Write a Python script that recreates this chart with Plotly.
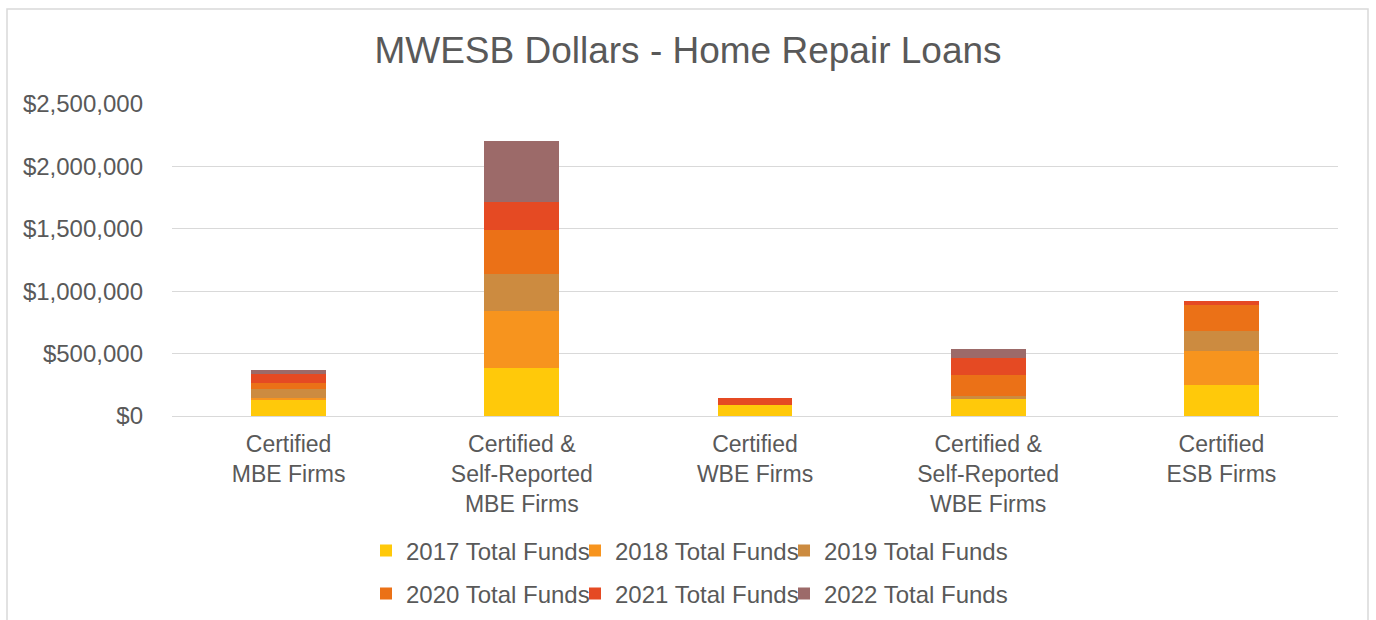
import plotly.graph_objects as go

categories = ["Certified<br>MBE Firms", "Certified &<br>Self-Reported<br>MBE Firms",
              "Certified<br>WBE Firms", "Certified &<br>Self-Reported<br>WBE Firms",
              "Certified<br>ESB Firms"]

funds_2017 = [133000, 381000, 88000, 133000, 248000]
funds_2018 = [13000, 461000, 0, 0, 274000]
funds_2019 = [67000, 298000, 0, 27000, 162000]
funds_2020 = [53000, 351000, 0, 165000, 208000]
funds_2021 = [72000, 221000, 58000, 138000, 27000]
funds_2022 = [32000, 490000, 0, 72000, 0]

series_names = ["2017 Total Funds", "2018 Total Funds", "2019 Total Funds",
                "2020 Total Funds", "2021 Total Funds", "2022 Total Funds"]
series_values = [funds_2017, funds_2018, funds_2019, funds_2020, funds_2021, funds_2022]
colors = ["#FFC90A", "#F7941E", "#CC8B40", "#EB7117", "#E54A23", "#9C6A69"]

tick_vals = [0, 500000, 1000000, 1500000, 2000000, 2500000]
tick_text = ["$0", "$500,000", "$1,000,000", "$1,500,000", "$2,000,000", "$2,500,000"]

W, H = 1376, 620
ML, MR, MT, MB = 172, 38, 104, 204
PW, PH = W - ML - MR, H - MT - MB

def px_x(p):
    return (p - ML) / PW

def px_y(p):
    return (H - MB - p) / PH

FONT = "Liberation Sans, Arial, sans-serif"
GRAY = "#595959"

# legend slot positions (pixel, left of entry box / row centre)
legend_cols = [366, 575, 784]
legend_rows = [551, 594]

fig = go.Figure()
legend_layouts = {}
for i, (name, vals, col) in enumerate(zip(series_names, series_values, colors)):
    key = f"legend{i + 2}"
    fig.add_trace(go.Bar(
        x=categories, y=vals, name=name,
        marker=dict(color=col, line=dict(width=0)),
        legend=key,
    ))
    legend_layouts[key] = dict(
        x=px_x(legend_cols[i % 3]), y=px_y(legend_rows[i // 3]),
        xanchor="left", yanchor="middle", orientation="h",
        font=dict(family=FONT, size=24, color=GRAY),
        bgcolor="rgba(0,0,0,0)", itemwidth=30,
    )

fig.update_layout(
    width=W, height=H,
    margin=dict(l=ML, r=MR, t=MT, b=MB, pad=0, autoexpand=False),
    paper_bgcolor="white", plot_bgcolor="white",
    barmode="stack", bargap=0.68,
    title=dict(text="MWESB Dollars - Home Repair Loans",
               x=688 / W, xref="container",
               y=1 - 50 / H, yref="container", xanchor="center", yanchor="middle",
               font=dict(family=FONT, size=37, color=GRAY)),
    font=dict(family=FONT, color=GRAY),
    xaxis=dict(tickfont=dict(family=FONT, size=23, color=GRAY), showgrid=False,
               showline=False, ticks="", ticklabelstandoff=12),
    yaxis=dict(range=[0, 2500000], tickvals=tick_vals, ticktext=tick_text,
               tickfont=dict(family=FONT, size=24, color=GRAY),
               showgrid=True, gridcolor="#D9D9D9", gridwidth=1.3,
               zeroline=True, zerolinecolor="#D9D9D9", zerolinewidth=1.3,
               showline=False, ticks="", ticklabelstandoff=28),
    shapes=[dict(type="rect", xref="paper", yref="paper",
                 x0=px_x(7), x1=px_x(1368), y0=px_y(640), y1=px_y(9),
                 line=dict(color="#D9D9D9", width=1.5), fillcolor="rgba(0,0,0,0)",
                 layer="below")],
    **legend_layouts,
)

fig.write_html("out.html", config={"displayModeBar": False},
               post_script="document.body.style.margin='0';document.body.style.overflow='hidden';")
